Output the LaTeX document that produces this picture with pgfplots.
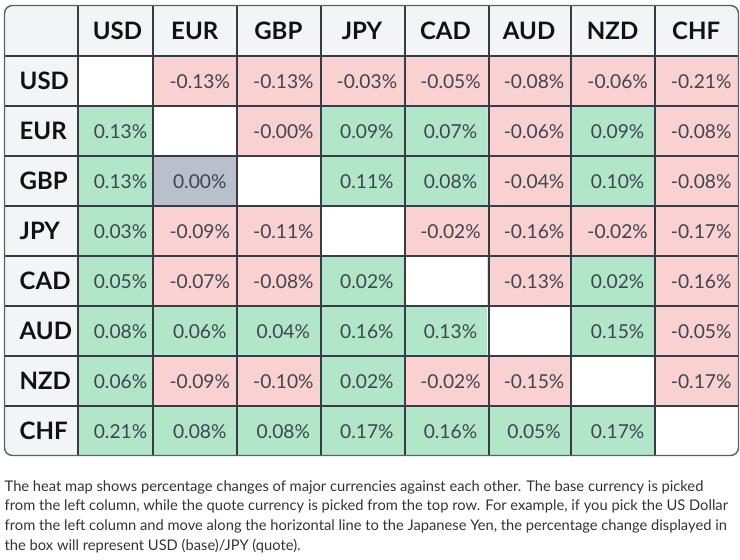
\documentclass[border=0pt]{standalone}
\usepackage{pgfplots}
\pgfplotsset{compat=1.18}
\usepackage{pgfplotstable}
\usepackage{fontspec}
\setmainfont{Lato}

\definecolor{hdrbg}{HTML}{F3F4F6}
\definecolor{gridc}{HTML}{373D47}
\definecolor{framec}{HTML}{5A606A}
\definecolor{valc}{HTML}{3E4550}
\definecolor{hdrc}{HTML}{111111}
\definecolor{notec}{HTML}{333333}

% red = down, grey = unchanged, green = up
\pgfplotsset{colormap={cells}{rgb255=(249,209,209) rgb255=(185,192,203) rgb255=(178,230,200)}}

% cell shapes: the USD column is a little narrower than the others
\pgfdeclareplotmark{cellA}{\pgfpathrectangle{\pgfpoint{-37.5pt}{-25pt}}{\pgfpoint{75pt}{50pt}}\pgfusepath{fill}}
\pgfdeclareplotmark{cellB}{\pgfpathrectangle{\pgfpoint{-41.8pt}{-25pt}}{\pgfpoint{83.6pt}{50pt}}\pgfusepath{fill}}

% currency names, index 1..8 (columns = quote, rows = base)
\pgfplotstableread{
c name
1 USD
2 EUR
3 GBP
4 JPY
5 CAD
6 AUD
7 NZD
8 CHF
}\currencies

% percentage change, base (row r) against quote (column c)
\pgfplotstableread{
r c v
1 2 -0.13
1 3 -0.13
1 4 -0.03
1 5 -0.05
1 6 -0.08
1 7 -0.06
1 8 -0.21
2 1 0.13
2 3 -0.004
2 4 0.09
2 5 0.07
2 6 -0.06
2 7 0.09
2 8 -0.08
3 1 0.13
3 2 0.00
3 4 0.11
3 5 0.08
3 6 -0.04
3 7 0.10
3 8 -0.08
4 1 0.03
4 2 -0.09
4 3 -0.11
4 5 -0.02
4 6 -0.16
4 7 -0.02
4 8 -0.17
5 1 0.05
5 2 -0.07
5 3 -0.08
5 4 0.02
5 6 -0.13
5 7 0.02
5 8 -0.16
6 1 0.08
6 2 0.06
6 3 0.04
6 4 0.16
6 5 0.13
6 7 0.15
6 8 -0.05
7 1 0.06
7 2 -0.09
7 3 -0.10
7 4 0.02
7 5 -0.02
7 6 -0.15
7 8 -0.17
8 1 0.21
8 2 0.08
8 3 0.08
8 4 0.17
8 5 0.16
8 6 0.05
8 7 0.17
}\changes

\pgfplotsset{
  value label/.style={draw=none, mark=none,
    every node near coord/.append style={anchor=base, inner sep=0pt, xshift=5pt,
      text=valc, font=\fontsize{19.2}{23}\selectfont}},
  name label/.style={draw=none, mark=none, point meta=explicit symbolic, nodes near coords,
    every node near coord/.append style={inner sep=0pt,
      text=hdrc, font=\fontsize{24}{28}\selectfont\bfseries}},
}

\begin{document}
\begin{tikzpicture}
\begin{axis}[
  set layers,
  scale only axis,
  width=734pt, height=450pt,
  xmin=4.5, xmax=738.5, ymin=5.5, ymax=455.5,
  y dir=reverse,
  clip=false,
  axis line style={draw=none},
  xtick=\empty, ytick=\empty,
  colormap name=cells,
  point meta min=0, point meta max=2,
]
% header row and base column background, then the white body
\fill[hdrbg, rounded corners=8pt] (axis cs:4.5,5.5) rectangle (axis cs:738.5,455.5);
\fill[white] (axis cs:78,56) -- (axis cs:738.5,56)
  [rounded corners=8pt] -- (axis cs:738.5,455.5) [sharp corners] -- (axis cs:78,455.5) -- cycle;

% coloured cells
\addplot[scatter, only marks, mark=cellA,
  scatter/use mapped color={fill=mapped color, draw=none},
  restrict expr to domain={\thisrow{c}}{1:1},
  point meta={\thisrow{v}>0 ? 2 : (\thisrow{v}<0 ? 0 : 1)}]
  table[x expr={115.5}, y expr={31+50*\thisrow{r}}] {\changes};
\addplot[scatter, only marks, mark=cellB,
  scatter/use mapped color={fill=mapped color, draw=none},
  restrict expr to domain={\thisrow{c}}{2:8},
  point meta={\thisrow{v}>0 ? 2 : (\thisrow{v}<0 ? 0 : 1)}]
  table[x expr={111.2+83.57*(\thisrow{c}-1)}, y expr={31+50*\thisrow{r}}] {\changes};

% cell values: falls carry a hyphen sign, rises and unchanged do not
\addplot[value label, point meta={-\thisrow{v}},
  restrict expr to domain={\thisrow{v}}{-1:-0.000001},
  nodes near coords={-\pgfmathprintnumber[fixed, fixed zerofill, precision=2, assume math mode=true]{\pgfplotspointmeta}\%}]
  table[x expr={\thisrow{c}==1 ? 115.5 : 111.2+83.57*(\thisrow{c}-1)}, y expr={38.5+50*\thisrow{r}}] {\changes};
\addplot[value label, point meta={\thisrow{v}},
  restrict expr to domain={\thisrow{v}}{0:1},
  nodes near coords={\pgfmathprintnumber[fixed, fixed zerofill, precision=2, assume math mode=true]{\pgfplotspointmeta}\%}]
  table[x expr={\thisrow{c}==1 ? 115.5 : 111.2+83.57*(\thisrow{c}-1)}, y expr={38.5+50*\thisrow{r}}] {\changes};

% quote currencies along the top
\addplot[name label, every node near coord/.append style={anchor=base}]
  table[x expr={\thisrow{c}==1 ? 117.5 : 111.2+83.57*(\thisrow{c}-1)}, y expr={39.3}, meta=name] {\currencies};

% base currencies down the left
\addplot[name label, every node near coord/.append style={anchor=base west}]
  table[x expr={19.5}, y expr={40+50*\thisrow{c}}, meta=name] {\currencies};

% table rules between the cells and the outer frame, above the cells
\begin{pgfonlayer}{axis foreground}
\pgfplotsinvokeforeach{78,153,237,321,405,489,571,655}{
  \draw[gridc, line width=2.4pt] (axis cs:#1,5.5) -- (axis cs:#1,455.5);
}
\pgfplotsinvokeforeach{56,106,156,206,256,306,356,406}{
  \draw[gridc, line width=2.4pt] (axis cs:4.5,#1) -- (axis cs:738.5,#1);
}
\draw[framec, line width=1.4pt, rounded corners=8pt] (axis cs:4.5,5.5) rectangle (axis cs:738.5,455.5);
\end{pgfonlayer}

% explanatory note
\begin{scope}[every node/.style={anchor=base west, inner sep=0pt, text=notec, font=\fontsize{14.7}{19}\selectfont}]
\node at (axis cs:4.5,491.5) {The heat map shows percentage changes of major currencies against each other. The base currency is picked};
\node at (axis cs:4.5,511) {from the left column, while the quote currency is picked from the top row. For example, if you pick the US Dollar};
\node at (axis cs:4.5,530.7) {from the left column and move along the horizontal line to the Japanese Yen, the percentage change displayed in};
\node at (axis cs:4.5,550.3) {the box will represent USD (base)/JPY (quote).};
\end{scope}

\coordinate (bbtl) at (axis cs:0,0);
\coordinate (bbbr) at (axis cs:740,560);
\end{axis}
\pgfresetboundingbox
\path[use as bounding box] (bbtl) rectangle (bbbr);
\end{tikzpicture}
\end{document}
